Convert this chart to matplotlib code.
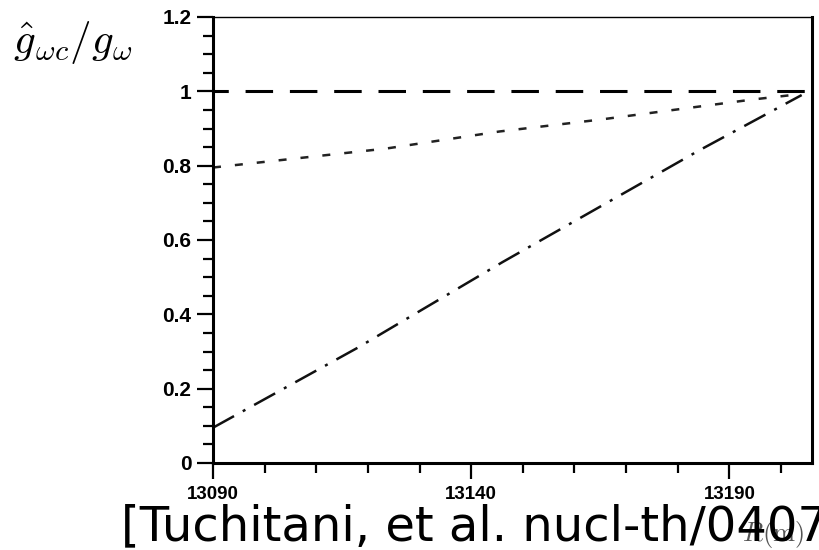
import matplotlib
matplotlib.use("Agg")
import matplotlib.pyplot as plt
from matplotlib.ticker import MultipleLocator, FuncFormatter

x_flat = [13090, 13206]
y_flat = [1.0, 1.0]

x_dot = [13090, 13123.5, 13145.5, 13165, 13194.5, 13204]
y_dot = [0.795, 0.846, 0.892, 0.924, 0.978, 0.993]

x_dd = [13090, 13118, 13146, 13184, 13204]
y_dd = [0.095, 0.31, 0.54, 0.84, 0.99]

x_major = [13090, 13140, 13190]

plt.rcParams["mathtext.fontset"] = "cm"

fig = plt.figure(figsize=(8.2, 5.5), dpi=100)
ax = fig.add_axes([213 / 820, 87 / 550, 599 / 820, 446 / 550])

ax.plot(x_flat, y_flat, color="black", lw=2.2,
        linestyle=(4, (9.0, 5.5)), solid_capstyle="butt", dash_capstyle="butt")
ax.plot(x_dot, y_dot, color="#222222", lw=1.8,
        linestyle=(0, (3.2, 5.6)), dash_capstyle="butt")
ax.plot(x_dd, y_dd, color="#111111", lw=1.8,
        linestyle=(0, (9.6, 4.0, 1.2, 4.0)), dash_capstyle="butt")

ax.set_xlim(13090, 13206)
ax.set_ylim(0, 1.2)

ax.set_xticks(x_major)
ax.xaxis.set_minor_locator(MultipleLocator(10))
ax.yaxis.set_major_locator(MultipleLocator(0.2))
ax.yaxis.set_minor_locator(MultipleLocator(0.05))
ax.yaxis.set_major_formatter(FuncFormatter(lambda v, p: "%g" % round(v, 2)))

ax.tick_params(axis="both", which="major", direction="out", length=11.5, width=1.6)
ax.tick_params(axis="both", which="minor", direction="out", length=7, width=1.6)
ax.tick_params(axis="y", which="major", pad=4)
ax.tick_params(axis="x", which="major", pad=5)

for lab in ax.get_xticklabels():
    lab.set_fontfamily("Liberation Sans")
    lab.set_fontweight("bold")
    lab.set_fontsize(13.5)
for lab in ax.get_yticklabels():
    lab.set_fontfamily("Liberation Sans")
    lab.set_fontweight("bold")
    lab.set_fontsize(15)

for s in ["left", "bottom", "right"]:
    ax.spines[s].set_linewidth(2.2)
ax.spines["top"].set_linewidth(1.0)

fig.text(13 / 820, 1 - 42 / 550, r"$\hat{g}_{\omega c}/g_{\omega}$",
         fontsize=31, ha="left", va="center")

fig.text(773 / 820, 1 - 541 / 550, r"$R(\mathrm{m})$", fontsize=19,
         color="#555555", ha="center", va="baseline")
fig.text(121 / 820, 1 - 540 / 550, "[Tuchitani, et al. nucl-th/0407",
         fontsize=34.6, family="DejaVu Sans", ha="left", va="baseline")

fig.savefig("out.png", dpi=100)
